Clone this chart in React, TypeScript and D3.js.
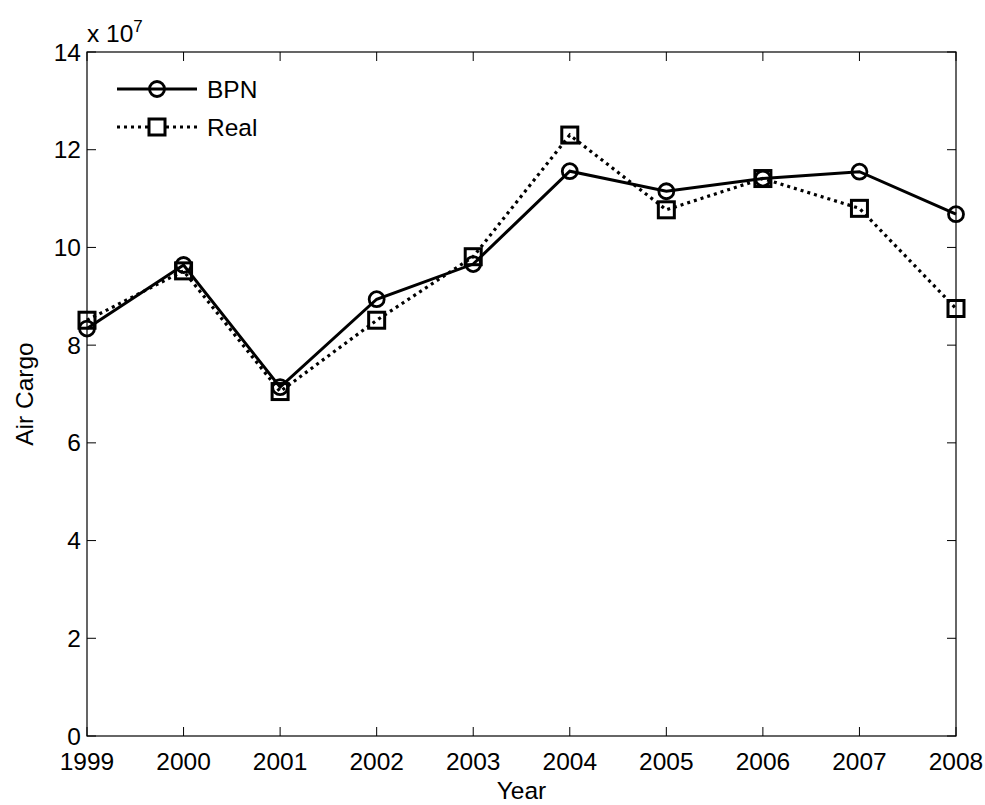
import React from 'react'
import { scaleLinear, line } from 'd3'

const years = [1999, 2000, 2001, 2002, 2003, 2004, 2005, 2006, 2007, 2008]
const bpnValues = [8.34e7, 9.64e7, 7.14e7, 8.94e7, 9.66e7, 11.56e7, 11.15e7, 11.41e7, 11.55e7, 10.68e7]
const realValues = [8.51e7, 9.52e7, 7.05e7, 8.51e7, 9.81e7, 12.3e7, 10.77e7, 11.41e7, 10.8e7, 8.75e7]
const yTicks = [0, 2e7, 4e7, 6e7, 8e7, 10e7, 12e7, 14e7]

const W = 985
const H = 805
const left = 87
const right = 956
const top = 52
const bottom = 736
const tickLen = 9
const fs = 24.5
const font = '"Liberation Sans", Arial, sans-serif'

export default function App() {
  const x = scaleLinear([1999, 2008], [left, right])
  const y = scaleLinear([0, 14e7], [bottom, top])

  const lineGen = line<number>()
    .x((_, i) => x(years[i]))
    .y(d => y(d))

  const legendX0 = 117
  const legendX1 = 197
  const legendMid = (legendX0 + legendX1) / 2

  return (
    <div style={{ position: 'absolute', left: 0, top: 0 }}>
      <svg width={W} height={H} style={{ display: 'block', background: '#fff' }}>
        <rect x={0} y={0} width={W} height={H} fill="#fff" />

        {/* box */}
        <rect x={left} y={top} width={right - left} height={bottom - top} fill="none" stroke="#000" strokeWidth={1.2} />

        {/* x ticks, bottom & top */}
        {years.map(yr => (
          <g key={'xt' + yr}>
            <line x1={x(yr)} x2={x(yr)} y1={bottom} y2={bottom - tickLen} stroke="#000" strokeWidth={1} />
            <line x1={x(yr)} x2={x(yr)} y1={top} y2={top + tickLen} stroke="#000" strokeWidth={1} />
            <text x={x(yr)} y={770} textAnchor="middle" fontFamily={font} fontSize={fs} fill="#000">
              {yr}
            </text>
          </g>
        ))}

        {/* y ticks, left & right */}
        {yTicks.map(t => (
          <g key={'yt' + t}>
            <line x1={left} x2={left + tickLen} y1={y(t)} y2={y(t)} stroke="#000" strokeWidth={1} />
            <line x1={right} x2={right - tickLen} y1={y(t)} y2={y(t)} stroke="#000" strokeWidth={1} />
            <text x={81} y={y(t) + 8.5} textAnchor="end" fontFamily={font} fontSize={fs} fill="#000">
              {t / 1e7}
            </text>
          </g>
        ))}

        {/* exponent */}
        <text x={87} y={42} fontFamily={font} fontSize={fs} fill="#000">
          x 10
          <tspan dy={-10} fontSize={17}>7</tspan>
        </text>

        {/* axis labels */}
        <text x={(left + right) / 2} y={799} textAnchor="middle" fontFamily={font} fontSize={fs} fill="#000">
          Year
        </text>
        <text
          transform={`translate(33, ${(top + bottom) / 2}) rotate(-90)`}
          textAnchor="middle"
          fontFamily={font}
          fontSize={fs}
          fill="#000"
        >
          Air Cargo
        </text>

        {/* Real: dotted with squares */}
        <path d={lineGen(realValues) || ''} fill="none" stroke="#000" strokeWidth={3.2} strokeDasharray="3,4" />
        {realValues.map((v, i) => (
          <rect
            key={'rs' + i}
            x={x(years[i]) - 8}
            y={y(v) - 8}
            width={16}
            height={16}
            fill="none"
            stroke="#000"
            strokeWidth={3}
          />
        ))}

        {/* BPN: solid with circles */}
        <path d={lineGen(bpnValues) || ''} fill="none" stroke="#000" strokeWidth={3} />
        {bpnValues.map((v, i) => (
          <circle key={'bc' + i} cx={x(years[i])} cy={y(v)} r={7.5} fill="none" stroke="#000" strokeWidth={2.8} />
        ))}

        {/* legend */}
        <line x1={legendX0} x2={legendX1} y1={89} y2={89} stroke="#000" strokeWidth={3} />
        <circle cx={legendMid} cy={89} r={7.5} fill="none" stroke="#000" strokeWidth={2.8} />
        <text x={207} y={98} fontFamily={font} fontSize={fs} fill="#000">BPN</text>

        <line x1={legendX0} x2={legendX1} y1={127} y2={127} stroke="#000" strokeWidth={3.2} strokeDasharray="3,4" />
        <rect x={legendMid - 8} y={119} width={16} height={16} fill="#fff" stroke="#000" strokeWidth={3} />
        <text x={207} y={136} fontFamily={font} fontSize={fs} fill="#000">Real</text>
      </svg>
    </div>
  )
}
